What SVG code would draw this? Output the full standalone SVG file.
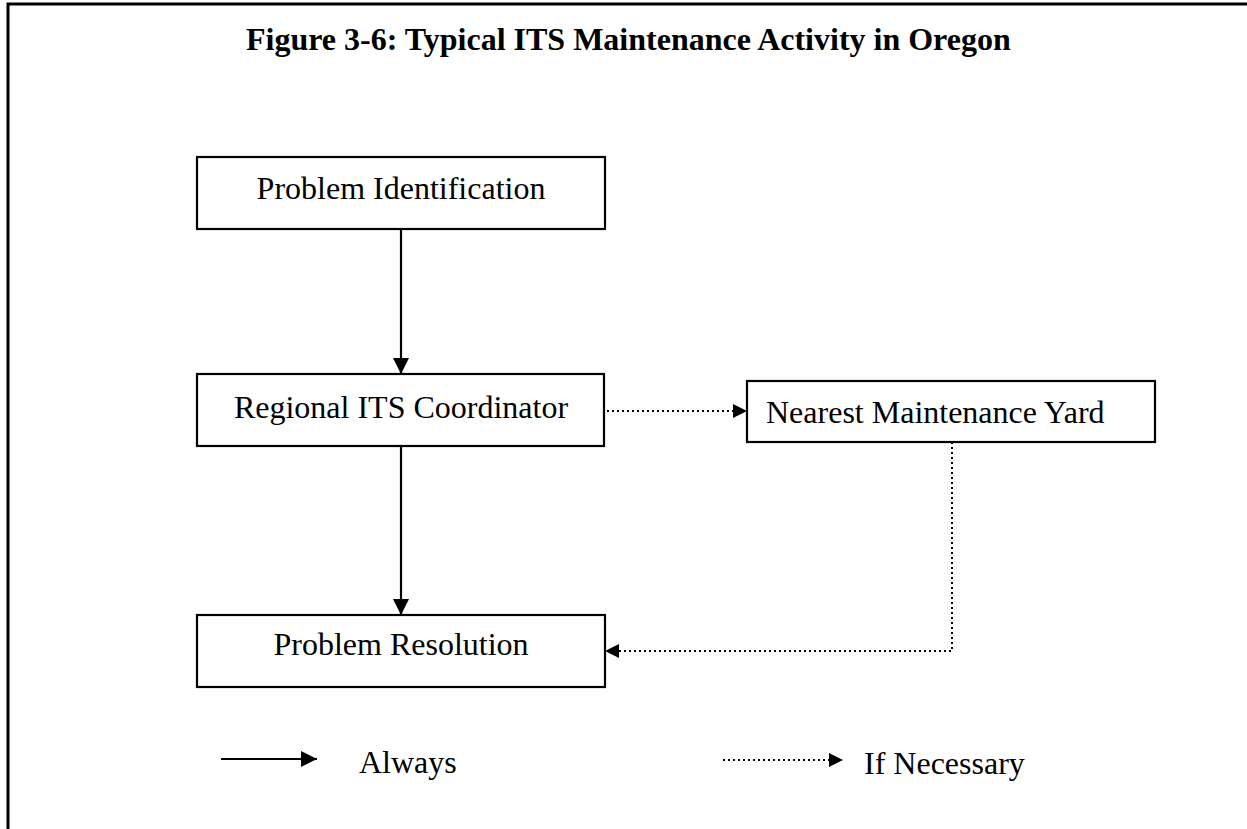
<svg xmlns="http://www.w3.org/2000/svg" width="1247" height="829" viewBox="0 0 1247 829">
<style>
.box{fill:#fff;stroke:#000;stroke-width:2.2}
.t{font-family:"Liberation Serif","Times New Roman",serif;font-size:32px;fill:#000}
.title{font-family:"Liberation Serif","Times New Roman",serif;font-size:32px;font-weight:bold;fill:#000}
.solid{stroke:#000;stroke-width:2.2;fill:none}
.dot{stroke:#000;stroke-width:2;fill:none;stroke-dasharray:2 3}
.border{stroke:#000;stroke-width:3;fill:none}
</style>
<defs>
<marker id="ah" viewBox="0 0 16 16" refX="16" refY="8" markerWidth="16" markerHeight="16" markerUnits="userSpaceOnUse" orient="auto">
<path d="M0,0 L16,8 L0,16 Z" fill="#000"/>
</marker>
<marker id="ahs" viewBox="0 0 14 14" refX="14" refY="7" markerWidth="14" markerHeight="14" markerUnits="userSpaceOnUse" orient="auto">
<path d="M0,0 L14,7 L0,14 Z" fill="#000"/>
</marker>
</defs>
<rect width="1247" height="829" fill="#fff"/>
<g id="frame">
<path class="border" d="M8,829 L8,4 L1247,4"/>
</g>
<text class="title" x="246" y="50">Figure 3-6: Typical ITS Maintenance Activity in Oregon</text>
<g id="connectors">
<line class="solid" x1="401" y1="229" x2="401" y2="374" marker-end="url(#ah)"/>
<line class="solid" x1="401" y1="446" x2="401" y2="615" marker-end="url(#ah)"/>
<line class="dot" x1="607" y1="411" x2="747" y2="411" marker-end="url(#ahs)"/>
<polyline class="dot" points="952,442 952,651 605,651" marker-end="url(#ahs)"/>
</g>
<g id="n1">
<rect class="box" x="197" y="157" width="408" height="72"/>
<text class="t" x="401" y="199" text-anchor="middle">Problem Identification</text>
</g>
<g id="n2">
<rect class="box" x="197" y="374" width="407" height="72"/>
<text class="t" x="401" y="418" text-anchor="middle">Regional ITS Coordinator</text>
</g>
<g id="n3">
<rect class="box" x="747" y="381" width="408" height="61"/>
<text class="t" x="766" y="423">Nearest Maintenance Yard</text>
</g>
<g id="n4">
<rect class="box" x="197" y="615" width="408" height="72"/>
<text class="t" x="401" y="655" text-anchor="middle">Problem Resolution</text>
</g>
<g id="legend">
<line class="solid" x1="221" y1="759" x2="317" y2="759" marker-end="url(#ah)"/>
<text class="t" x="359" y="773">Always</text>
<line class="dot" x1="723" y1="760" x2="843" y2="760" marker-end="url(#ahs)"/>
<text class="t" x="864" y="774">If Necessary</text>
</g>
</svg>
